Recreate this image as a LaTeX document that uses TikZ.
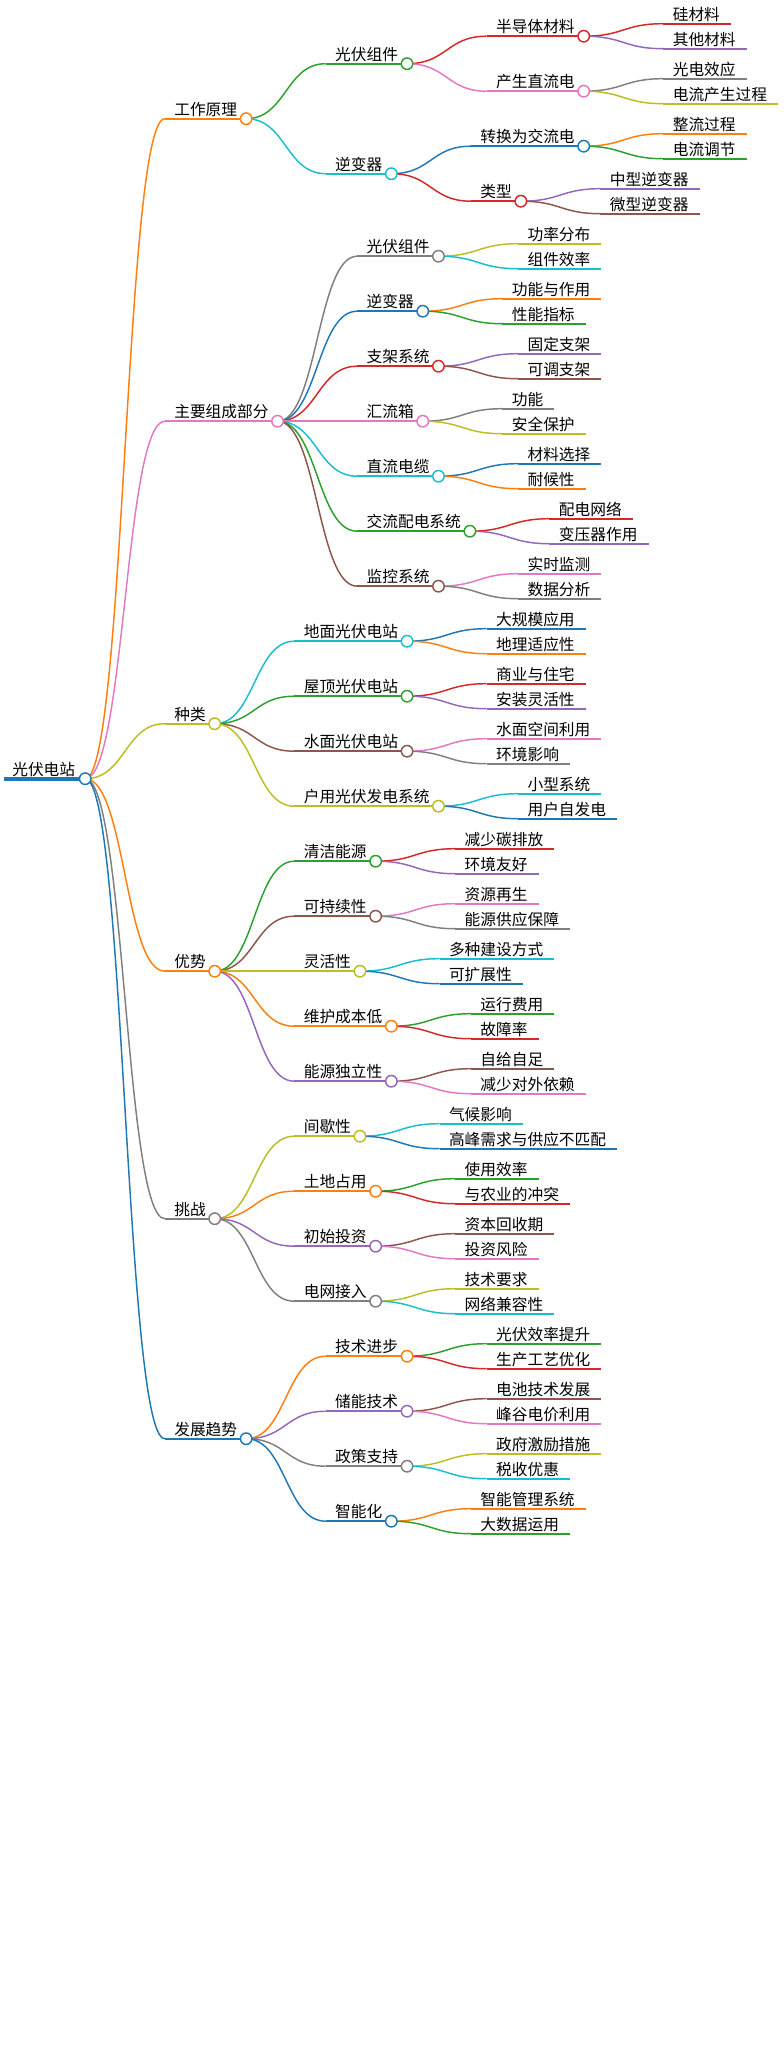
\documentclass[tikz,border=0pt]{standalone}
\usepackage{fontspec}
\newfontfamily\cjk{Noto Sans CJK SC}
\usetikzlibrary{calc}
\pgfdeclarelayer{links}
\pgfsetlayers{links,main}
\definecolor{mblue}{HTML}{1F77B4}
\definecolor{morange}{HTML}{FF7F0E}
\definecolor{mgreen}{HTML}{2CA02C}
\definecolor{mred}{HTML}{D62728}
\definecolor{mpurple}{HTML}{9467BD}
\definecolor{mbrown}{HTML}{8C564B}
\definecolor{mpink}{HTML}{E377C2}
\definecolor{mgray}{HTML}{7F7F7F}
\definecolor{molive}{HTML}{BCBD22}
\definecolor{mcyan}{HTML}{17BECF}
\tikzset{
  lbl/.style={anchor=base west,inner sep=0pt,outer sep=0pt,text=black,font=\cjk\fontsize{11.78}{14}\selectfont},
  stem/.style={line width=1.25pt,#1},
  link/.style={line width=1.1pt,#1},
  mmdot/.style={draw=#1,fill=white,circle,line width=1.1pt,inner sep=0pt,outer sep=0pt,minimum size=8.6pt}
}
% name, parent, colour, y, text
\newcommand{\mmbase}[5]{%
  \coordinate (#1s) at ($(#2d |- 0,#4)+(79.6,0)$);
  \node[lbl] (#1t) at ($(#1s)+(9.5,-3.4)$) {#5};
  \begin{pgfonlayer}{links}
    \draw[link=#3] (#2d.center) .. controls +(40,0) and +(-40,0) .. (#1s);
  \end{pgfonlayer}}
\newcommand{\mmnode}[5]{%
  \mmbase{#1}{#2}{#3}{#4}{#5}
  \node[mmdot=#3] (#1d) at ($(#1t.east |- #1s)+(9,0)$) {};
  \begin{pgfonlayer}{links}
    \draw[stem=#3] (#1s) -- (#1d.center);
  \end{pgfonlayer}}
\newcommand{\mmleaf}[5]{%
  \mmbase{#1}{#2}{#3}{#4}{#5}
  \coordinate (#1e) at ($(#1t.east |- #1s)+(11,0)$);
  \begin{pgfonlayer}{links}
    \draw[stem=#3] (#1s) -- (#1e);
  \end{pgfonlayer}}
\begin{document}
\begin{tikzpicture}[x=0.75pt,y=-0.75pt]
\useasboundingbox (0,0) rectangle (784,2045);
\coordinate (Gs) at (4,778.7);
\node[lbl] (Gt) at (12.3,775.3) {光伏电站};
\node[mmdot=mblue] (Gd) at (85.2,778.7) {};
\begin{pgfonlayer}{links}
\draw[mblue,line width=3pt] (Gs) -- (Gd.center);
\end{pgfonlayer}
\mmnode{A}{G}{morange}{118.7}{工作原理}
\mmnode{A1}{A}{mgreen}{63.7}{光伏组件}
\mmnode{A11}{A1}{mred}{36.2}{半导体材料}
\mmleaf{A111}{A11}{mred}{23.7}{硅材料}
\mmleaf{A112}{A11}{mpurple}{48.7}{其他材料}
\mmnode{A12}{A1}{mpink}{91.2}{产生直流电}
\mmleaf{A121}{A12}{mgray}{78.7}{光电效应}
\mmleaf{A122}{A12}{molive}{103.7}{电流产生过程}
\mmnode{A2}{A}{mcyan}{173.7}{逆变器}
\mmnode{A21}{A2}{mblue}{146.2}{转换为交流电}
\mmleaf{A211}{A21}{morange}{133.7}{整流过程}
\mmleaf{A212}{A21}{mgreen}{158.7}{电流调节}
\mmnode{A22}{A2}{mred}{201.2}{类型}
\mmleaf{A221}{A22}{mpurple}{188.7}{中型逆变器}
\mmleaf{A222}{A22}{mbrown}{213.7}{微型逆变器}
\mmnode{B}{G}{mpink}{421.2}{主要组成部分}
\mmnode{B1}{B}{mgray}{256.2}{光伏组件}
\mmleaf{B11}{B1}{molive}{243.7}{功率分布}
\mmleaf{B12}{B1}{mcyan}{268.7}{组件效率}
\mmnode{B2}{B}{mblue}{311.2}{逆变器}
\mmleaf{B21}{B2}{morange}{298.7}{功能与作用}
\mmleaf{B22}{B2}{mgreen}{323.7}{性能指标}
\mmnode{B3}{B}{mred}{366.2}{支架系统}
\mmleaf{B31}{B3}{mpurple}{353.7}{固定支架}
\mmleaf{B32}{B3}{mbrown}{378.7}{可调支架}
\mmnode{B4}{B}{mpink}{421.2}{汇流箱}
\mmleaf{B41}{B4}{mgray}{408.7}{功能}
\mmleaf{B42}{B4}{molive}{433.7}{安全保护}
\mmnode{B5}{B}{mcyan}{476.2}{直流电缆}
\mmleaf{B51}{B5}{mblue}{463.7}{材料选择}
\mmleaf{B52}{B5}{morange}{488.7}{耐候性}
\mmnode{B6}{B}{mgreen}{531.2}{交流配电系统}
\mmleaf{B61}{B6}{mred}{518.7}{配电网络}
\mmleaf{B62}{B6}{mpurple}{543.7}{变压器作用}
\mmnode{B7}{B}{mbrown}{586.2}{监控系统}
\mmleaf{B71}{B7}{mpink}{573.7}{实时监测}
\mmleaf{B72}{B7}{mgray}{598.7}{数据分析}
\mmnode{C}{G}{molive}{723.7}{种类}
\mmnode{C1}{C}{mcyan}{641.2}{地面光伏电站}
\mmleaf{C11}{C1}{mblue}{628.7}{大规模应用}
\mmleaf{C12}{C1}{morange}{653.7}{地理适应性}
\mmnode{C2}{C}{mgreen}{696.2}{屋顶光伏电站}
\mmleaf{C21}{C2}{mred}{683.7}{商业与住宅}
\mmleaf{C22}{C2}{mpurple}{708.7}{安装灵活性}
\mmnode{C3}{C}{mbrown}{751.2}{水面光伏电站}
\mmleaf{C31}{C3}{mpink}{738.7}{水面空间利用}
\mmleaf{C32}{C3}{mgray}{763.7}{环境影响}
\mmnode{C4}{C}{molive}{806.2}{户用光伏发电系统}
\mmleaf{C41}{C4}{mcyan}{793.7}{小型系统}
\mmleaf{C42}{C4}{mblue}{818.7}{用户自发电}
\mmnode{D}{G}{morange}{971.2}{优势}
\mmnode{D1}{D}{mgreen}{861.2}{清洁能源}
\mmleaf{D11}{D1}{mred}{848.7}{减少碳排放}
\mmleaf{D12}{D1}{mpurple}{873.7}{环境友好}
\mmnode{D2}{D}{mbrown}{916.2}{可持续性}
\mmleaf{D21}{D2}{mpink}{903.7}{资源再生}
\mmleaf{D22}{D2}{mgray}{928.7}{能源供应保障}
\mmnode{D3}{D}{molive}{971.2}{灵活性}
\mmleaf{D31}{D3}{mcyan}{958.7}{多种建设方式}
\mmleaf{D32}{D3}{mblue}{983.7}{可扩展性}
\mmnode{D4}{D}{morange}{1026.2}{维护成本低}
\mmleaf{D41}{D4}{mgreen}{1013.7}{运行费用}
\mmleaf{D42}{D4}{mred}{1038.7}{故障率}
\mmnode{D5}{D}{mpurple}{1081.2}{能源独立性}
\mmleaf{D51}{D5}{mbrown}{1068.7}{自给自足}
\mmleaf{D52}{D5}{mpink}{1093.7}{减少对外依赖}
\mmnode{E}{G}{mgray}{1218.7}{挑战}
\mmnode{E1}{E}{molive}{1136.2}{间歇性}
\mmleaf{E11}{E1}{mcyan}{1123.7}{气候影响}
\mmleaf{E12}{E1}{mblue}{1148.7}{高峰需求与供应不匹配}
\mmnode{E2}{E}{morange}{1191.2}{土地占用}
\mmleaf{E21}{E2}{mgreen}{1178.7}{使用效率}
\mmleaf{E22}{E2}{mred}{1203.7}{与农业的冲突}
\mmnode{E3}{E}{mpurple}{1246.2}{初始投资}
\mmleaf{E31}{E3}{mbrown}{1233.7}{资本回收期}
\mmleaf{E32}{E3}{mpink}{1258.7}{投资风险}
\mmnode{E4}{E}{mgray}{1301.2}{电网接入}
\mmleaf{E41}{E4}{molive}{1288.7}{技术要求}
\mmleaf{E42}{E4}{mcyan}{1313.7}{网络兼容性}
\mmnode{F}{G}{mblue}{1438.7}{发展趋势}
\mmnode{F1}{F}{morange}{1356.2}{技术进步}
\mmleaf{F11}{F1}{mgreen}{1343.7}{光伏效率提升}
\mmleaf{F12}{F1}{mred}{1368.7}{生产工艺优化}
\mmnode{F2}{F}{mpurple}{1411.2}{储能技术}
\mmleaf{F21}{F2}{mbrown}{1398.7}{电池技术发展}
\mmleaf{F22}{F2}{mpink}{1423.7}{峰谷电价利用}
\mmnode{F3}{F}{mgray}{1466.2}{政策支持}
\mmleaf{F31}{F3}{molive}{1453.7}{政府激励措施}
\mmleaf{F32}{F3}{mcyan}{1478.7}{税收优惠}
\mmnode{F4}{F}{mblue}{1521.2}{智能化}
\mmleaf{F41}{F4}{morange}{1508.7}{智能管理系统}
\mmleaf{F42}{F4}{mgreen}{1533.7}{大数据运用}
\end{tikzpicture}
\end{document}
